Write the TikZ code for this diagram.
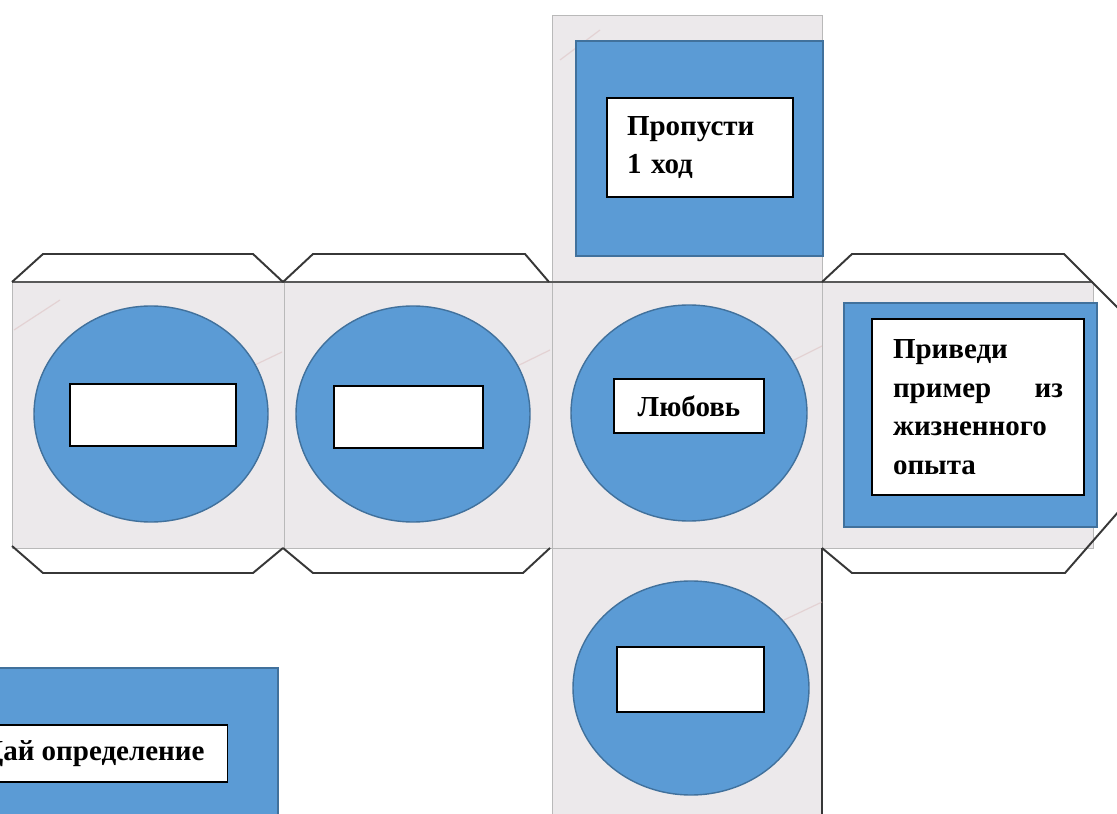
\documentclass[tikz,border=0pt]{standalone}
\usepackage{fontspec}
\setmainfont{Liberation Serif}
\usetikzlibrary{positioning}
\definecolor{marble}{RGB}{236,233,235}
\definecolor{tileblue}{RGB}{91,155,213}
\definecolor{tileedge}{RGB}{65,113,156}
\definecolor{foldline}{RGB}{55,55,55}

\tikzset{
  face/.style={fill=marble, draw=gray!55, line width=0.4pt},
  tab/.style={draw=foldline, line width=1.1pt, line join=miter},
  tile/.style={fill=tileblue, draw=tileedge, line width=0.8pt},
  disc/.style={fill=tileblue, draw=tileedge, line width=0.8pt},
  streak/.style={draw=gray!70!red!40, line width=0.7pt, opacity=0.5},
  cardbox/.style={draw=black, fill=white, line width=0.6pt, inner sep=0pt,
    font=\fontsize{16.5}{22}\selectfont\bfseries},
}

\begin{document}
\begin{tikzpicture}[x=0.02cm, y=-0.02cm]
  \clip (0,0) rectangle (1117,814);
  \fill[white] (0,0) rectangle (1117,814);

  % faces of the net
  \foreach \xa/\xb in {12/284, 284/552, 552/822, 822/1093}
    \draw[face] (\xa,282) rectangle (\xb,548);
  \draw[face] (552,15) rectangle (822,282);
  \draw[face] (552,548) rectangle (822,830);
  \draw[foldline, line width=0.9pt] (822,548) -- (822,830);
  \draw[gray!70!black, line width=0.6pt] (12,282) -- (1093,282);

  % marble streaks
  \draw[streak] (236,374) -- (282,352);
  \draw[streak] (505,372) -- (550,350);
  \draw[streak] (790,362) -- (822,346);
  \draw[streak] (784,620) -- (822,602);
  \draw[streak] (14,330) -- (60,300);
  \draw[streak] (560,60) -- (600,30);

  % glue tabs
  \draw[tab] (12,282) -- (43,254) -- (253,254) -- (283,282);
  \draw[tab] (283,282) -- (313,254) -- (525,254) -- (549,282);
  \draw[tab] (822,282) -- (852,254) -- (1064,254) -- (1140,330);
  \draw[tab] (12,546) -- (43,573) -- (253,573) -- (283,548);
  \draw[tab] (283,548) -- (313,573) -- (523,573) -- (550,548);
  \draw[tab] (822,548) -- (852,573) -- (1065,573) -- (1140,487);

  % blue tiles
  \draw[tile] (576,41) rectangle (823,256);
  \draw[tile] (844,303) rectangle (1097,527);
  \draw[tile] (-10,668) rectangle (278,830);
  \draw[disc] (151,414) ellipse [x radius=117, y radius=108];
  \draw[disc] (413,414) ellipse [x radius=117, y radius=108];
  \draw[disc] (689,413) ellipse [x radius=118, y radius=108];
  \draw[disc] (691,688) ellipse [x radius=118, y radius=107];

  % cards
  \node[cardbox, minimum width=3.72cm, minimum height=1.98cm, text width=2.92cm, align=left]
    (skip) at (700,147.5) {Пропусти\\1 ход};
  \node[cardbox, minimum width=4.24cm, minimum height=3.52cm, text width=3.4cm, align=left]
    (example) at (978,407) {Приведи\\пример\hfill из\\жизненного\\опыта};
  \node[cardbox, minimum width=3cm, minimum height=1.08cm] (love) at (689,406) {Любовь};
  \node[cardbox, minimum width=3.32cm, minimum height=1.24cm] (blank1) at (153,415) {};
  \node[cardbox, minimum width=2.98cm, minimum height=1.24cm] (blank2) at (408.5,417) {};
  \node[cardbox, minimum width=2.94cm, minimum height=1.3cm] (blank3) at (690.5,679.5) {};
  \node[cardbox, anchor=east, inner xsep=0.46cm, minimum height=1.14cm]
    (define) at (228,753.5) {Дай определение};
\end{tikzpicture}
\end{document}
